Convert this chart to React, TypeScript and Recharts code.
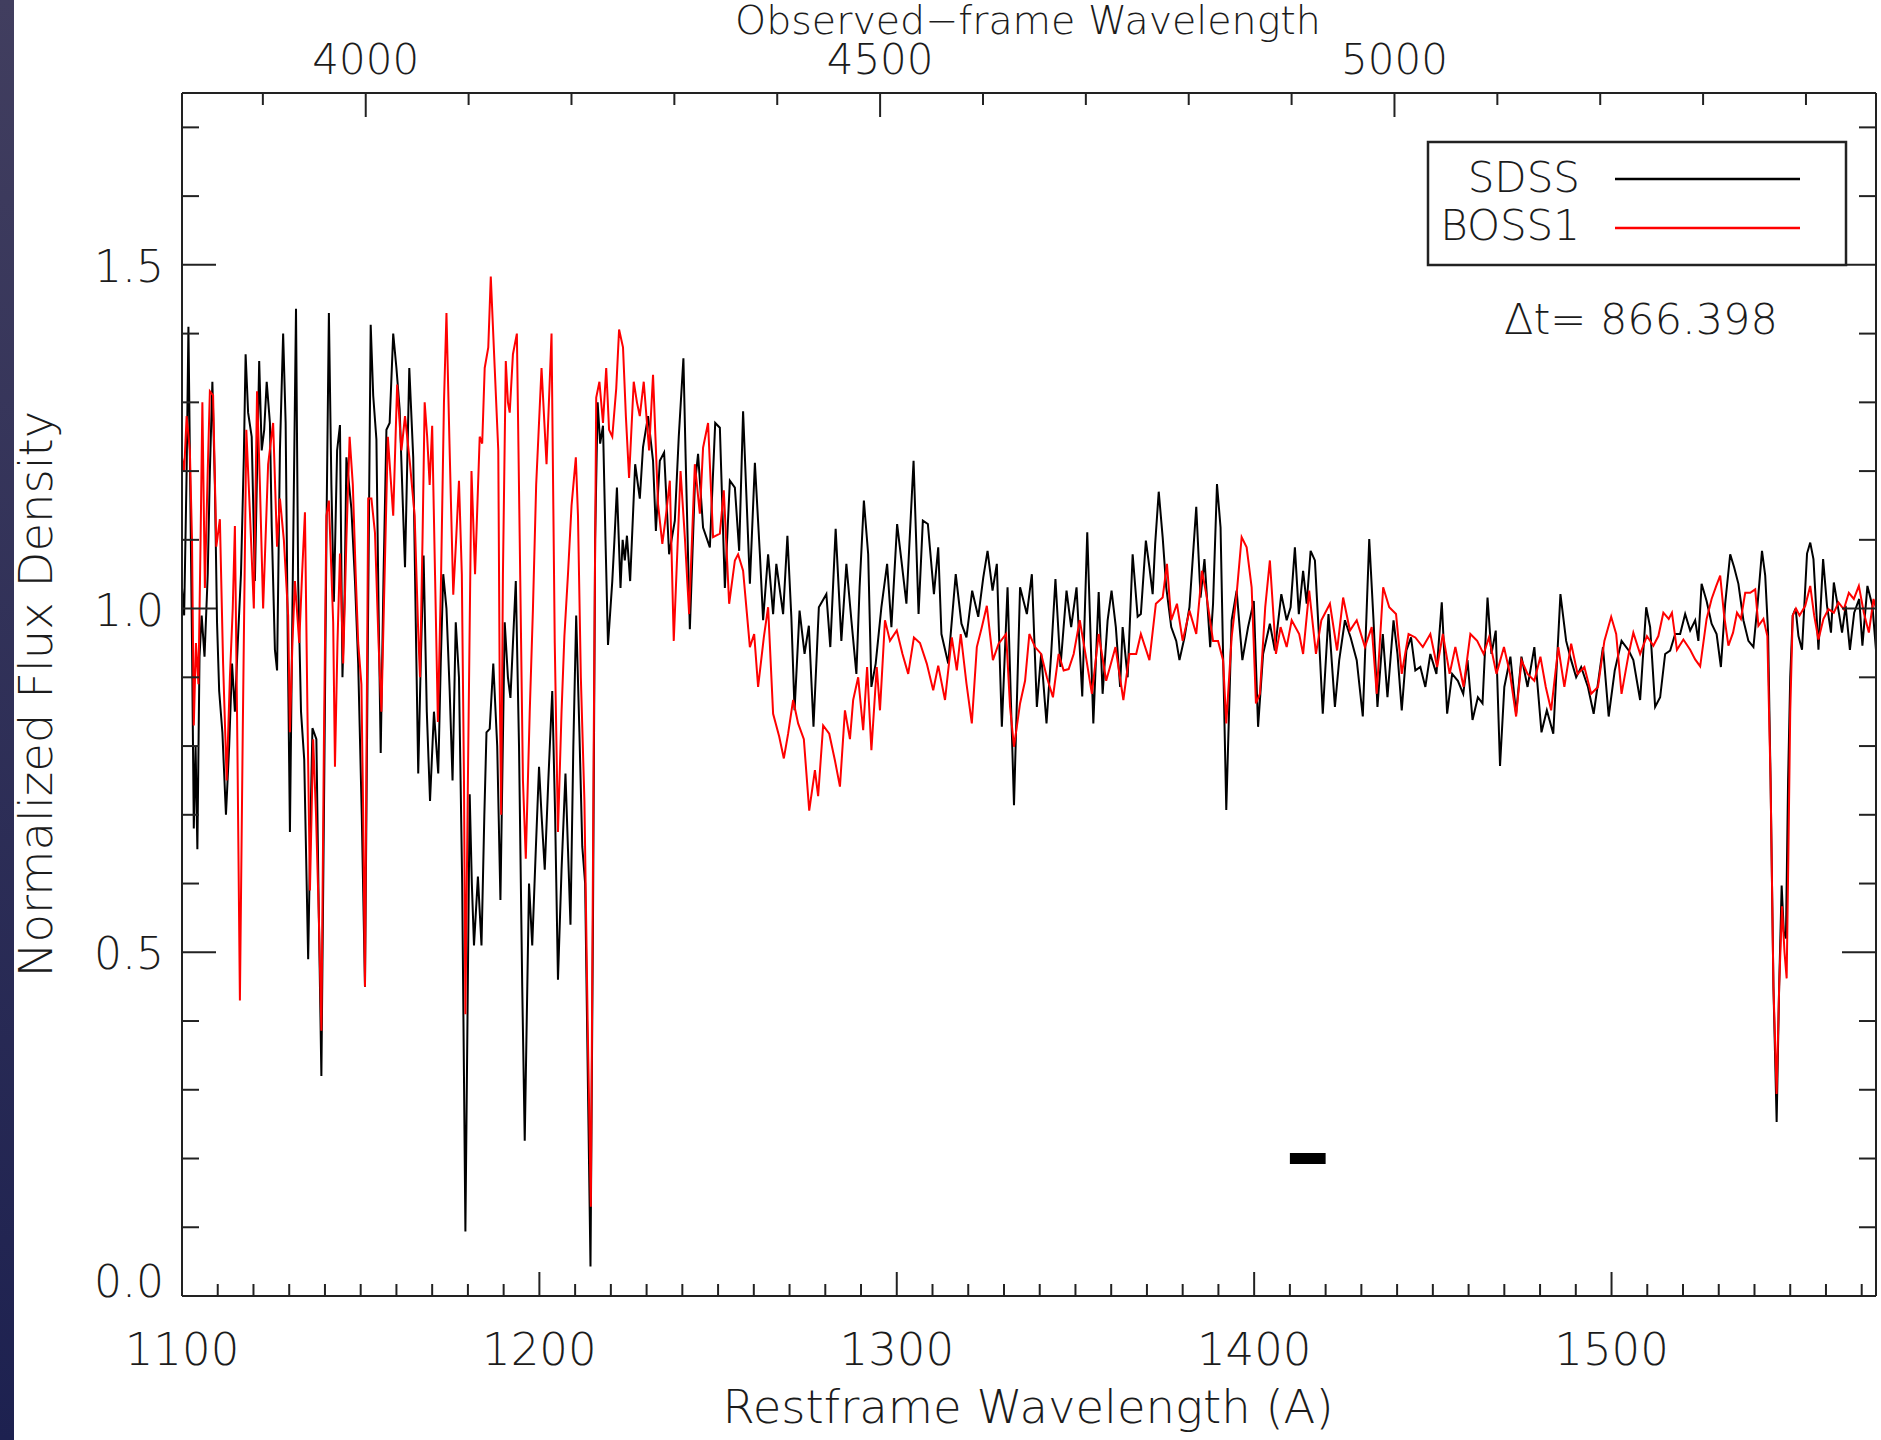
import React from 'react';
import { LineChart, Line, XAxis, YAxis, ReferenceLine } from 'recharts';

// ---------------- data ----------------
const seriesNames = ['SDSS', 'BOSS1'];
const seriesColors = ['#000000', '#ff0000'];
const restMajor = [1100, 1200, 1300, 1400, 1500];
const obsMajor = [4000, 4500, 5000];
const fluxMajor = [0, 0.5, 1.0, 1.5];
const restRange: [number, number] = [1100, 1574];
const fluxRange: [number, number] = [0, 1.75];
const onePlusZ = 3.474;
const deltaT = '866.398';
const xTitle = 'Restframe Wavelength (A)';
const topTitle = 'Observed\u2212frame Wavelength';
const yTitle = 'Normalized Flux Density';
const resBar = [{ x: 1410, y: 0.2 }, { x: 1420, y: 0.2 }];

const sdssForest: [number, number][] = [
  [1100.0,1.03],[1100.6,0.99],[1101.3,1.20],[1101.8,1.41],[1102.3,1.18],[1102.8,0.95],[1103.3,0.68],[1103.8,0.80],
  [1104.3,0.65],[1104.9,0.93],[1105.5,0.99],[1106.3,0.93],[1107.2,1.05],[1107.8,1.20],[1108.5,1.33],[1109.2,1.18],
  [1109.8,0.98],[1110.4,0.88],[1111.3,0.82],[1112.3,0.70],[1113.2,0.80],[1114.0,0.92],[1114.8,0.85],[1115.6,0.95],
  [1116.5,1.05],[1117.3,1.22],[1117.8,1.37],[1118.5,1.285],[1119.5,1.25],[1120.4,1.04],[1121.0,1.20],[1121.6,1.36],
  [1122.3,1.23],[1123.0,1.26],[1123.7,1.33],[1124.6,1.27],[1125.1,1.12],[1126.0,0.94],[1126.6,0.91],[1127.4,1.23],
  [1128.3,1.40],[1129.0,1.27],[1129.6,0.95],[1130.2,0.675],[1130.9,1.00],[1131.9,1.436],[1132.5,1.04],[1133.3,0.85],
  [1134.2,0.78],[1135.3,0.49],[1136.0,0.70],[1136.5,0.826],[1137.6,0.81],[1138.3,0.55],[1139.0,0.32],[1139.8,0.75],
  [1140.5,1.15],[1141.1,1.43],[1141.8,1.18],[1142.5,1.01],[1143.4,1.23],[1144.2,1.267],[1144.9,0.90],[1145.5,1.02],
  [1146.0,1.22],[1147.4,1.145],[1148.4,1.04],[1149.3,0.92],[1150.3,0.70],[1151.2,0.45],[1152.0,0.95],[1152.8,1.413],
  [1153.5,1.31],[1154.4,1.246],[1155.0,1.00],[1155.6,0.79],[1156.4,1.05],[1157.2,1.26],[1158.1,1.27],[1159.1,1.40],
  [1160.0,1.35],[1160.9,1.29],[1161.7,1.165],[1162.4,1.06],[1163.6,1.35],[1164.7,1.22],[1165.5,0.95],[1166.1,0.76],
  [1166.8,0.92],[1167.6,1.077],[1168.5,0.85],[1169.4,0.72],[1170.5,0.85],[1171.7,0.76],[1172.4,0.92],[1173.1,1.05],
  [1174.0,1.00],[1174.9,0.88],[1175.7,0.75],[1176.6,0.98],[1177.5,0.90],[1178.4,0.60],[1179.3,0.094],[1180.5,0.73],
  [1181.1,0.60],[1181.7,0.51],[1182.8,0.61],[1183.8,0.51],[1184.6,0.70],[1185.2,0.82],[1186.1,0.825],[1187.1,0.92],
  [1188.2,0.80],[1189.1,0.576],[1190.3,0.98],[1191.2,0.90],[1191.9,0.87],[1193.4,1.04],[1194.3,0.80],[1195.2,0.45],
  [1195.9,0.226],[1197.1,0.60],[1198.0,0.51],[1199.0,0.65],[1199.9,0.77],[1200.6,0.70],[1201.5,0.62],[1202.5,0.75],
  [1203.6,0.88],[1204.4,0.70],[1205.2,0.46],[1206.2,0.62],[1207.3,0.76],[1208.0,0.65],[1208.7,0.54],[1209.5,0.80],
  [1210.3,0.99],[1211.2,0.82],[1212.0,0.654],[1212.8,0.60],[1213.6,0.30],[1214.3,0.043],[1215.0,0.55],[1215.6,1.10],
  [1216.3,1.30],[1217.0,1.24],[1217.8,1.266],[1218.5,1.10],[1219.2,0.947],[1220.4,1.04],[1221.0,1.10],[1221.7,1.176],
  [1222.7,1.03],[1223.3,1.10],[1223.9,1.07],[1224.5,1.106],[1225.4,1.04],
];

const sdssMid: [number, number][] = [
  [1226.8,1.21],[1228.1,1.16],[1229.0,1.235],[1230.4,1.28],[1231.8,1.215],[1232.6,1.113],[1233.7,1.215],[1234.9,1.227],
  [1236.3,1.079],[1237.9,1.128],[1239.0,1.25],[1240.3,1.364],[1240.9,1.225],[1242.1,0.97],[1243.5,1.18],[1244.4,1.225],
  [1245.8,1.118],[1247.7,1.089],[1249.2,1.27],[1250.5,1.263],[1251.9,1.03],[1253.3,1.186],[1254.7,1.176],[1255.9,1.084],
  [1257.0,1.287],[1258.9,1.036],[1260.3,1.212],[1261.7,1.079],[1262.6,0.983],[1264.0,1.079],[1265.4,0.992],[1266.3,1.065],
  [1268.2,0.992],[1269.4,1.106],[1270.5,0.988],[1271.4,0.852],[1272.8,0.997],[1274.2,0.934],[1275.4,0.975],[1276.7,0.828],
  [1278.2,1.002],[1280.3,1.021],[1281.4,0.944],[1282.9,1.116],[1284.5,0.953],[1285.9,1.065],[1287.3,0.983],[1288.7,0.905],
  [1289.6,1.031],[1290.8,1.157],[1292.0,1.079],[1292.9,0.886],[1294.1,0.92],[1295.7,1.002],[1297.3,1.065],[1298.5,0.973],
  [1300.1,1.123],[1301.3,1.07],[1302.7,1.007],[1304.7,1.215],[1306.1,0.992],[1307.3,1.128],[1308.7,1.123],[1310.4,1.021],
  [1311.6,1.089],[1312.5,0.963],[1314.4,0.92],[1316.5,1.05],[1318.1,0.978],[1319.5,0.958],[1321.1,1.026],[1322.8,0.988],
  [1324.2,1.045],[1325.4,1.084],[1326.8,1.026],[1328.0,1.065],[1329.4,0.828],[1331.0,1.031],[1332.8,0.714],[1334.5,1.031],
  [1336.4,0.992],[1337.8,1.05],[1339.2,0.857],[1340.4,0.934],[1341.9,0.833],[1343.2,0.934],[1344.4,1.043],[1345.8,0.915],
  [1347.5,1.026],[1348.8,0.973],[1350.3,1.031],[1351.9,0.872],[1353.3,1.111],[1355.0,0.833],[1356.5,1.024],
];

const sdssCont: [number, number][] = [
  [1357.6,0.876],[1359.0,0.983],[1360.1,1.026],[1361.3,0.973],[1362.5,0.886],[1363.2,0.973],[1364.6,0.9],[1366.0,1.079],
  [1367.4,0.988],[1368.3,0.992],[1369.7,1.099],[1370.7,1.06],[1371.6,1.021],[1372.3,1.094],[1373.3,1.17],[1374.4,1.104],
  [1375.4,1.031],[1376.8,0.973],[1378.2,0.953],[1379.1,0.925],[1380.5,0.958],[1381.9,1.002],[1383.8,1.148],[1385.0,1.016],
  [1386.1,1.072],[1387.7,0.944],[1388.5,1.007],[1389.6,1.181],[1390.6,1.118],[1391.3,0.934],[1392.2,0.707],[1393.7,0.983],
  [1395.1,1.026],[1396.7,0.925],[1398.3,0.973],[1399.9,1.011],[1401.1,0.828],[1402.5,0.934],[1404.4,0.978],[1405.8,0.939],
  [1407.6,1.021],[1409.1,0.983],[1410.2,1.002],[1411.4,1.089],[1412.5,0.992],[1413.7,1.055],[1414.7,1.007],[1415.8,1.084],
  [1417.0,1.07],[1418.0,0.973],[1419.2,0.847],[1420.8,0.992],[1422.6,0.857],[1423.8,0.925],[1425.4,0.983],[1427.0,0.958],
  [1428.7,0.925],[1430.4,0.843],[1432.2,1.101],[1433.4,0.983],[1434.5,0.857],[1436.0,0.963],[1437.3,0.871],[1439.0,0.983],
  [1440.1,0.934],[1441.3,0.852],[1442.6,0.939],[1443.9,0.958],[1445.1,0.91],[1446.5,0.915],[1447.9,0.886],[1449.3,0.934],
  [1451.0,0.905],[1452.5,1.009],[1454.0,0.847],[1455.4,0.905],[1457.0,0.895],[1458.5,0.876],[1459.7,0.925],[1461.1,0.838],
  [1462.6,0.871],[1463.9,0.862],[1465.3,1.016],[1466.4,0.934],[1467.6,0.968],[1468.8,0.771],[1470.0,0.886],[1471.7,0.93],
  [1473.3,0.847],[1474.8,0.93],[1476.5,0.886],[1478.4,0.944],[1480.4,0.82],[1481.9,0.852],[1483.7,0.818],[1485.7,1.021],
  [1487.3,0.953],[1488.7,0.925],[1490.1,0.9],[1491.5,0.915],[1493.4,0.886],[1495.0,0.847],[1496.2,0.891],[1497.6,0.944],
  [1499.2,0.843],[1500.9,0.91],[1502.8,0.953],
];

const sdssCiv: [number, number][] = [
  [1504.8,0.939],[1506.1,0.925],[1508.0,0.867],[1509.7,1.002],[1510.8,0.973],[1512.2,0.857],[1513.6,0.871],[1515.0,0.934],
  [1516.4,0.939],[1517.8,0.963],[1519.2,0.963],[1520.6,0.992],[1522.0,0.968],[1523.4,0.983],[1524.3,0.953],[1525.2,1.036],
  [1526.6,1.011],[1528.0,0.978],[1529.4,0.963],[1530.6,0.915],[1531.8,1.007],[1533.2,1.079],[1534.3,1.06],[1535.5,1.036],
  [1536.9,0.983],[1538.3,0.953],[1539.7,0.944],[1540.8,1.002],[1542.1,1.084],[1543.0,1.048],[1543.8,0.966],[1544.5,0.75],
  [1545.3,0.45],[1546.2,0.253],[1546.9,0.45],[1547.6,0.597],[1548.2,0.53],[1548.8,0.52],[1549.4,0.75],[1550.0,0.90],
  [1550.7,0.99],[1551.5,1.0],[1552.3,0.96],[1553.3,0.94],[1554.7,1.08],[1555.6,1.096],[1556.5,1.072],[1557.9,0.94],
  [1559.2,1.072],[1560.3,1.004],[1561.4,0.965],[1562.2,1.038],[1563.3,1.004],[1564.5,0.965],[1565.5,1.004],[1566.7,0.94],
  [1567.9,0.994],[1569.3,1.014],[1570.2,0.946],[1571.6,1.033],[1573.0,1.004],[1574.0,0.94],
];

const bossForest: [number, number][] = [
  [1100.0,1.22],[1100.6,1.20],[1101.3,1.28],[1102.2,1.23],[1102.8,1.10],[1103.3,0.83],[1103.9,0.95],[1104.6,0.89],
  [1105.2,1.10],[1105.7,1.30],[1106.4,1.03],[1107.2,1.20],[1107.8,1.316],[1108.7,1.31],[1109.6,1.09],[1110.6,1.13],
  [1111.5,0.92],[1112.5,0.75],[1113.4,0.90],[1114.2,1.00],[1114.8,1.12],[1115.5,0.80],[1116.2,0.43],[1117.0,0.82],
  [1118.0,1.26],[1119.0,1.14],[1120.1,1.00],[1121.0,1.316],[1121.8,1.18],[1122.7,1.00],[1124.1,1.21],[1125.5,1.27],
  [1126.6,1.09],[1127.4,1.16],[1128.5,1.10],[1129.7,0.99],[1130.2,0.82],[1130.9,0.95],[1131.6,1.04],[1132.8,0.95],
  [1133.6,1.05],[1134.4,1.14],[1135.1,0.85],[1135.8,0.59],[1136.7,0.81],[1137.5,0.70],[1138.3,0.55],[1139.0,0.386],
  [1139.7,0.80],[1140.4,1.135],[1141.1,1.157],[1142.3,0.98],[1142.8,0.77],[1143.5,0.95],[1144.2,1.08],[1145.1,0.92],
  [1146.0,1.10],[1146.9,1.25],[1147.8,1.18],[1148.6,1.05],[1149.3,0.95],[1150.2,0.89],[1150.7,0.70],[1151.2,0.45],
  [1151.7,0.85],[1152.1,1.16],[1153.0,1.16],[1154.0,1.11],[1155.0,0.95],[1155.8,0.85],[1156.7,1.05],[1157.6,1.25],
  [1159.1,1.135],[1160.2,1.326],[1161.4,1.23],[1162.4,1.28],[1163.8,1.21],[1165.1,1.135],[1166.1,0.965],[1166.6,0.90],
  [1167.3,1.10],[1167.9,1.30],[1168.6,1.25],[1169.3,1.18],[1170.0,1.266],[1170.8,1.05],[1171.6,0.835],[1172.5,1.05],
  [1173.3,1.30],[1174.0,1.43],[1174.8,1.25],[1175.9,1.02],[1176.7,1.10],[1177.5,1.186],[1178.3,1.05],[1178.9,0.75],
  [1179.3,0.41],[1180.0,0.75],[1181.0,1.20],[1182.0,1.05],[1183.3,1.25],[1184.0,1.24],[1184.7,1.35],[1185.7,1.38],
  [1186.4,1.483],[1187.5,1.35],[1188.5,1.23],[1188.9,0.89],[1189.3,0.70],[1189.8,1.05],[1190.6,1.36],[1191.2,1.30],
  [1191.7,1.285],[1192.6,1.37],[1193.7,1.40],[1194.5,1.10],[1195.4,0.75],[1196.2,0.636],[1197.3,0.85],[1198.2,1.00],
  [1199.1,1.18],[1200.6,1.35],[1202.0,1.21],[1203.4,1.40],[1204.3,0.95],[1205.2,0.675],[1206.2,0.85],[1207.0,0.96],
  [1208.0,1.05],[1209.0,1.15],[1210.2,1.22],[1210.8,1.135],[1211.6,0.90],[1212.6,0.72],[1213.5,0.40],[1214.4,0.13],
  [1215.2,0.80],[1215.9,1.307],[1216.8,1.33],[1217.8,1.27],[1218.7,1.35],[1219.5,1.26],[1220.4,1.25],[1221.5,1.32],
  [1222.3,1.406],[1223.4,1.38],[1224.2,1.28],[1225.1,1.19],[1226.4,1.33],[1227.3,1.30],[1228.1,1.28],[1229.2,1.33],
  [1230.7,1.23],[1231.8,1.34],[1233.2,1.152],[1234.4,1.094],[1235.4,1.135],[1236.5,1.186],
];

const bossMid: [number, number][] = [
  [1237.6,0.953],[1239.5,1.2],[1240.7,1.104],[1241.9,0.992],[1243.5,1.21],[1244.9,1.138],[1245.8,1.234],[1247.2,1.27],
  [1248.6,1.104],[1250.5,1.109],[1251.6,1.172],[1253.1,1.007],[1254.7,1.07],[1255.6,1.079],[1257.0,1.055],[1258.9,0.944],
  [1260.1,0.963],[1261.2,0.886],[1262.8,0.958],[1264.0,1.002],[1265.4,0.847],[1267.1,0.814],[1268.4,0.782],[1269.6,0.818],
  [1271.0,0.867],[1272.4,0.833],[1274.0,0.81],[1275.5,0.706],[1277.1,0.765],[1278.0,0.727],[1279.4,0.83],[1281.1,0.818],
  [1282.7,0.779],[1284.1,0.741],[1285.5,0.852],[1286.9,0.81],[1287.8,0.867],[1289.2,0.9],[1290.6,0.823],[1291.7,0.915],
  [1292.9,0.794],[1294.4,0.915],[1295.3,0.852],[1296.7,0.983],[1298.1,0.953],[1300.0,0.968],[1301.6,0.934],[1303.2,0.905],
  [1304.8,0.958],[1306.5,0.95],[1308.4,0.92],[1310.2,0.881],[1311.6,0.917],[1313.5,0.867],[1315.4,0.958],[1316.8,0.91],
  [1317.9,0.963],[1319.5,0.891],[1321.0,0.833],[1322.4,0.944],[1323.8,0.973],[1325.2,1.004],[1326.9,0.925],[1328.5,0.949],
  [1330.6,0.963],[1331.7,0.857],[1332.8,0.799],[1334.5,0.862],[1335.9,0.895],[1337.1,0.963],[1338.7,0.944],[1340.4,0.934],
  [1342.0,0.9],[1343.7,0.871],[1345.3,0.934],[1346.7,0.91],[1348.1,0.912],[1349.5,0.934],[1351.2,0.983],[1352.8,0.934],
  [1354.6,0.876],[1356.5,0.963],
];

const bossCont: [number, number][] = [
  [1358.6,0.895],[1361.2,0.944],[1363.4,0.867],[1365.1,0.934],[1367.0,0.934],[1368.3,0.963],[1370.7,0.925],[1372.5,1.007],
  [1374.4,1.016],[1375.6,1.065],[1376.8,0.983],[1378.4,1.007],[1380.0,0.953],[1381.9,0.997],[1383.8,0.963],[1385.4,1.055],
  [1386.6,1.021],[1388.5,0.953],[1389.9,0.953],[1391.3,0.925],[1392.2,0.833],[1393.7,0.958],[1395.1,1.021],[1396.5,1.104],
  [1397.9,1.089],[1399.3,1.031],[1400.5,0.862],[1401.6,0.876],[1403.1,1.002],[1404.4,1.07],[1406.1,0.934],[1407.4,0.973],
  [1409.1,0.944],[1410.5,0.983],[1412.6,0.963],[1413.7,0.934],[1415.4,1.026],[1417.3,0.934],[1418.8,0.983],[1421.2,1.007],
  [1423.2,0.939],[1424.9,1.016],[1426.8,0.968],[1428.7,0.983],[1431.0,0.944],[1432.9,0.973],[1434.3,0.876],[1436.1,1.031],
  [1437.8,1.002],[1439.7,0.992],[1441.3,0.905],[1443.2,0.963],[1445.1,0.958],[1447.2,0.944],[1449.3,0.963],[1451.2,0.915],
  [1452.8,0.963],[1454.7,0.905],[1456.3,0.944],[1458.6,0.886],[1460.5,0.963],[1462.4,0.953],[1464.2,0.934],[1465.7,0.958],
  [1467.8,0.905],[1469.9,0.944],[1471.6,0.905],[1473.3,0.843],[1474.8,0.925],[1476.5,0.905],[1478.4,0.895],[1480.1,0.93],
  [1481.6,0.886],[1483.1,0.852],[1485.1,0.944],[1486.8,0.886],[1488.7,0.949],[1490.5,0.905],[1492.4,0.915],[1494.3,0.876],
  [1496.2,0.886],[1498.0,0.953],[1499.9,0.988],[1501.3,0.963],[1502.8,0.876],
];

const bossCiv: [number, number][] = [
  [1504.8,0.934],[1506.1,0.965],[1508.0,0.934],[1509.9,0.96],[1511.7,0.946],[1513.1,0.96],[1514.5,0.994],[1516.0,0.985],
  [1516.9,0.994],[1518.3,0.94],[1520.1,0.955],[1522.0,0.94],[1523.4,0.926],[1524.8,0.916],[1526.6,0.985],[1528.0,1.014],
  [1529.3,1.033],[1530.4,1.048],[1531.5,0.99],[1532.7,0.946],[1534.0,0.965],[1535.1,0.994],[1536.2,0.985],[1537.4,1.023],
  [1538.8,1.023],[1540.2,1.028],[1541.1,0.975],[1542.5,0.985],[1543.6,0.96],[1544.5,0.75],[1545.3,0.45],[1546.2,0.294],
  [1546.9,0.45],[1547.7,0.567],[1548.4,0.50],[1549.0,0.462],[1549.5,0.65],[1550.0,0.85],[1550.7,0.99],[1551.6,1.0],
  [1552.6,0.99],[1554.2,1.004],[1555.6,1.033],[1556.7,0.99],[1557.9,0.955],[1559.3,0.985],[1560.7,0.999],[1562.2,0.994],
  [1563.5,1.009],[1565.0,0.999],[1566.4,1.023],[1567.8,1.014],[1569.2,1.033],[1570.6,0.994],[1572.0,0.965],[1573.3,1.014],
  [1574.0,1.0],
];

const toPts = (arr: [number, number][]) => arr.map(([x, y]) => ({ x, y }));
const sdssData = toPts([...sdssForest, ...sdssMid, ...sdssCont, ...sdssCiv]);
const bossData = toPts([...bossForest, ...bossMid, ...bossCont, ...bossCiv]);

// tick positions (minor ticks between the labelled majors)
const restTicks = Array.from({ length: 48 }, (_, i) => 1100 + 10 * i);
const obsTicks = Array.from({ length: 16 }, (_, i) => 3900 + 100 * i);
const obsTicksRest = obsTicks.map((o) => o / onePlusZ);
const fluxTicks = Array.from({ length: 18 }, (_, i) => Math.round(i) / 10);

// ---------------- styling ----------------
const FONT = '"DejaVu Sans", sans-serif';
const INK = '#1c1c1c';
const AX = { stroke: '#222', strokeWidth: 2 };

const isMajorRest = (v: number) => restMajor.some((m) => Math.abs(m - v) < 1e-6);
const isMajorFlux = (v: number) => fluxMajor.some((m) => Math.abs(m - v) < 1e-6);

const BottomTick = (p: any) => {
  const { x, y, payload } = p;
  const v = payload.value;
  const major = isMajorRest(v);
  return (
    <g>
      <line x1={x} x2={x} y1={y} y2={y - (major ? 24 : 12)} stroke="#222" strokeWidth={2} />
      {major && (
        <text x={x} y={y + 69} textAnchor="middle" fontSize={45} fontFamily={FONT} fill={INK} fontWeight={300}>
          {v}
        </text>
      )}
    </g>
  );
};

const TopTick = (p: any) => {
  const { x, y, payload } = p;
  const obs = Math.round(payload.value * onePlusZ);
  const major = obsMajor.includes(obs);
  return (
    <g>
      <line x1={x} x2={x} y1={y} y2={y + (major ? 24 : 12)} stroke="#222" strokeWidth={2} />
      {major && (
        <text x={x} y={y - 19} textAnchor="middle" fontSize={42} fontFamily={FONT} fill={INK} fontWeight={300}>
          {obs}
        </text>
      )}
    </g>
  );
};

const LeftTick = (p: any) => {
  const { x, y, payload } = p;
  const v = payload.value;
  const major = isMajorFlux(v);
  return (
    <g>
      <line x1={x} x2={x + (major ? 34 : 17)} y1={y} y2={y} stroke="#222" strokeWidth={2} />
      {major && (
        <text x={x - 18} y={v === 0 ? y + 1 : y + 17} textAnchor="end" fontSize={44} fontFamily={FONT} fill={INK} fontWeight={300}>
          {v.toFixed(1)}
        </text>
      )}
    </g>
  );
};

const RightTick = (p: any) => {
  const { x, y, payload } = p;
  const major = isMajorFlux(payload.value);
  return <line x1={x} x2={x - (major ? 34 : 17)} y1={y} y2={y} stroke="#222" strokeWidth={2} />;
};

export default function App() {
  return (
    <div style={{ position: 'absolute', left: 0, top: 0, width: 1881, height: 1440, background: '#fff', overflow: 'hidden' }}>
      <LineChart width={1881} height={1440} margin={{ top: 33, right: 4, bottom: 44, left: 62 }}>
        <XAxis
          xAxisId="bottom" orientation="bottom" type="number" dataKey="x" domain={restRange} allowDataOverflow
          ticks={restTicks} interval={0} tick={(p: any) => <BottomTick {...p} />} tickLine={false} tickSize={0} tickMargin={0}
          axisLine={AX} height={100}
        />
        <XAxis
          xAxisId="top" orientation="top" type="number" dataKey="x" domain={restRange} allowDataOverflow
          ticks={obsTicksRest} interval={0} tick={(p: any) => <TopTick {...p} />} tickLine={false} tickSize={0} tickMargin={0}
          axisLine={AX} height={60}
        />
        <YAxis
          yAxisId="left" orientation="left" type="number" domain={fluxRange} allowDataOverflow
          ticks={fluxTicks} interval={0} tick={(p: any) => <LeftTick {...p} />} tickLine={false} tickSize={0} tickMargin={0}
          axisLine={AX} width={120}
        />
        <YAxis
          yAxisId="right" orientation="right" type="number" domain={fluxRange} allowDataOverflow
          ticks={fluxTicks} interval={0} tick={(p: any) => <RightTick {...p} />} tickLine={false} tickSize={0} tickMargin={0}
          axisLine={AX} width={1}
        />
        <Line
          xAxisId="bottom" yAxisId="left" data={sdssData} dataKey="y" name={seriesNames[0]} type="linear"
          stroke={seriesColors[0]} strokeWidth={2} dot={false} activeDot={false} isAnimationActive={false}
        />
        <Line
          xAxisId="bottom" yAxisId="left" data={bossData} dataKey="y" name={seriesNames[1]} type="linear"
          stroke={seriesColors[1]} strokeWidth={2} dot={false} activeDot={false} isAnimationActive={false}
        />
        <ReferenceLine xAxisId="bottom" yAxisId="left" segment={resBar} stroke="#000" strokeWidth={11} />
      </LineChart>

      <svg width={1881} height={1440} style={{ position: 'absolute', left: 0, top: 0, pointerEvents: 'none' }}>
        <text x={1028} y={34} textAnchor="middle" fontSize={39.5} fontFamily={FONT} fill={INK} fontWeight={300}>{topTitle}</text>
        <text x={1028} y={1423} textAnchor="middle" fontSize={46.5} fontFamily={FONT} fill={INK} fontWeight={300}>{xTitle}</text>
        <text x={52} y={694} textAnchor="middle" fontSize={46.5} fontFamily={FONT} fill={INK} fontWeight={300}
          transform="rotate(-90 52 694)">{yTitle}</text>

        <rect x={1428} y={142} width={418} height={123} fill="#fff" stroke="#222" strokeWidth={2.5} />
        <text x={1580} y={192} textAnchor="end" fontSize={42} fontFamily={FONT} fill={INK} fontWeight={300}>{seriesNames[0]}</text>
        <line x1={1615} x2={1800} y1={179} y2={179} stroke={seriesColors[0]} strokeWidth={2.5} />
        <text x={1580} y={240} textAnchor="end" fontSize={42} fontFamily={FONT} fill={INK} fontWeight={300}>{seriesNames[1]}</text>
        <line x1={1615} x2={1800} y1={228} y2={228} stroke={seriesColors[1]} strokeWidth={2.5} />

        <text x={1504} y={334} fontSize={43} fontFamily={FONT} fill={INK} fontWeight={300}>{'\u0394t=  ' + deltaT}</text>
      </svg>

      <div style={{ position: 'absolute', left: 0, top: 0, width: 14, height: 1440, background: 'linear-gradient(to bottom, #413e5f, #1d2150)' }} />
    </div>
  );
}
